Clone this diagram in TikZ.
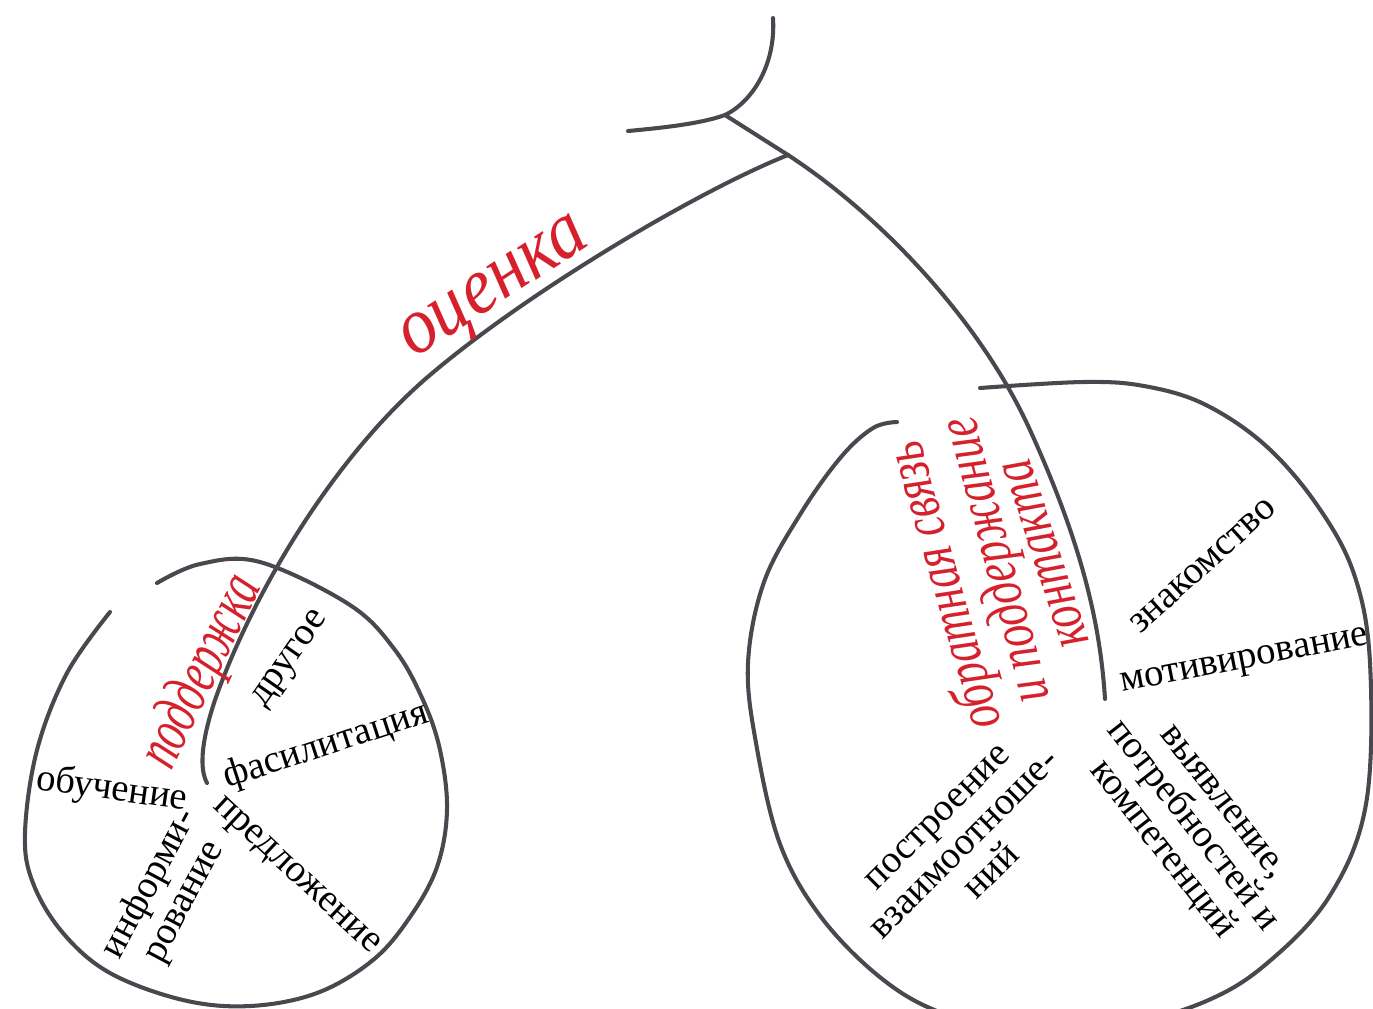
\documentclass[tikz,border=0pt]{standalone}
\usepackage{fontspec}
\setmainfont{Liberation Serif}
\usepackage{tikz}
\definecolor{inkgray}{RGB}{72, 72, 78}
\definecolor{penred}{RGB}{214, 32, 44}

\begin{document}
\begin{tikzpicture}[x=0.01cm, y=-0.01cm,
    stroke/.style={inkgray, line width=1.15pt, line cap=round, line join=round},
    word/.style={font=\fontsize{11}{11}\selectfont, inner sep=0pt, align=center},
    hand/.style={penred, font=\fontsize{#1}{#1}\selectfont\itshape, inner sep=0pt}]
    \fill[white] (0,0) rectangle (1373,1008);
    \useasboundingbox (0,0) rectangle (1373,1008);
    \clip (0,0) rectangle (1373,1008);

    % опорные точки
    \coordinate (bar) at (725,115);
    \coordinate (head) at (788,155);
    \coordinate (hubL) at (207,783);
    \coordinate (hubR) at (1105,699);

    % руль и рама
    \draw[stroke] (773,18) .. controls (776,65) and (752,102) .. (bar)
        .. controls (700,124) and (660,128) .. (628,131);
    \draw[stroke] (bar) -- (head);
    \draw[stroke] (head) .. controls (880,215) and (980,320) .. (1030,430)
        .. controls (1080,540) and (1100,620) .. (hubR);
    \draw[stroke] (head) .. controls (700,190) and (530,290) .. (430,375)
        .. controls (330,460) and (250,600) .. (215,700)
        .. controls (200,745) and (200,770) .. (hubL);

    % колёса
    \draw[stroke] plot[smooth, tension=0.6] coordinates {(157,583) (200,564) (260,562)
        (350,605) (395,650) (423,700) (440,750) (447,810) (437,867) (410,917)
        (373,960) (317,993) (250,1006) (183,1000) (110,973) (63,933) (33,883)
        (25,833) (37,750) (67,673) (110,612)};
    \draw[stroke] plot[smooth, tension=0.6] coordinates {(980,388) (1083,382)
        (1144,386) (1204,404) (1265,445) (1317,505) (1354,574) (1370,663)
        (1366,804) (1329,897) (1265,965) (1204,1002) (1124,1025) (1030,1035)
        (942,1013) (881,978) (821,917) (780,844) (756,743) (748,663) (764,582)
        (801,513) (841,457) (873,428) (897,422)};

    % подписи
    \node[hand=23, rotate=33, xscale=0.9] (ocenka) at (497,292) {оценка};
    \node[hand=18, rotate=64, xscale=0.68] (podderzhka) at (203,672) {поддержка};
    \node[hand=17, rotate=106, xscale=0.75] (obratnaya) at (946,585) {обратная связь};
    \node[hand=17, rotate=105, xscale=0.75] (podderzhanie) at (998,560) {и поддержание};
    \node[hand=17, rotate=108, xscale=0.75] (kontakta) at (1046,553) {контакта};

    \node[word, rotate=-8] (obuchenie) at (112,790) {обучение};
    \node[word, rotate=62] (informirovanie) at (167,893) {информи-\\рование};
    \node[word, rotate=-43] (predlozhenie) at (295,877) {предложение};
    \node[word, rotate=18] (fasilitaciya) at (326,746) {фасилитация};
    \node[word, rotate=55] (drugoe) at (292,660) {другое};
    \node[word, rotate=11] (motivirovanie) at (1245,663) {мотивирование};
    \node[word, rotate=42] (znakomstvo) at (1203,566) {знакомство};
    \node[word, rotate=-52] (vyyavlenie) at (1190,828) {выявление,\\потребностей и\\компетенций};
    \node[word, rotate=45] (postroenie) at (965,845) {построение\\взаимоотноше-\\ний};
\end{tikzpicture}
\end{document}
